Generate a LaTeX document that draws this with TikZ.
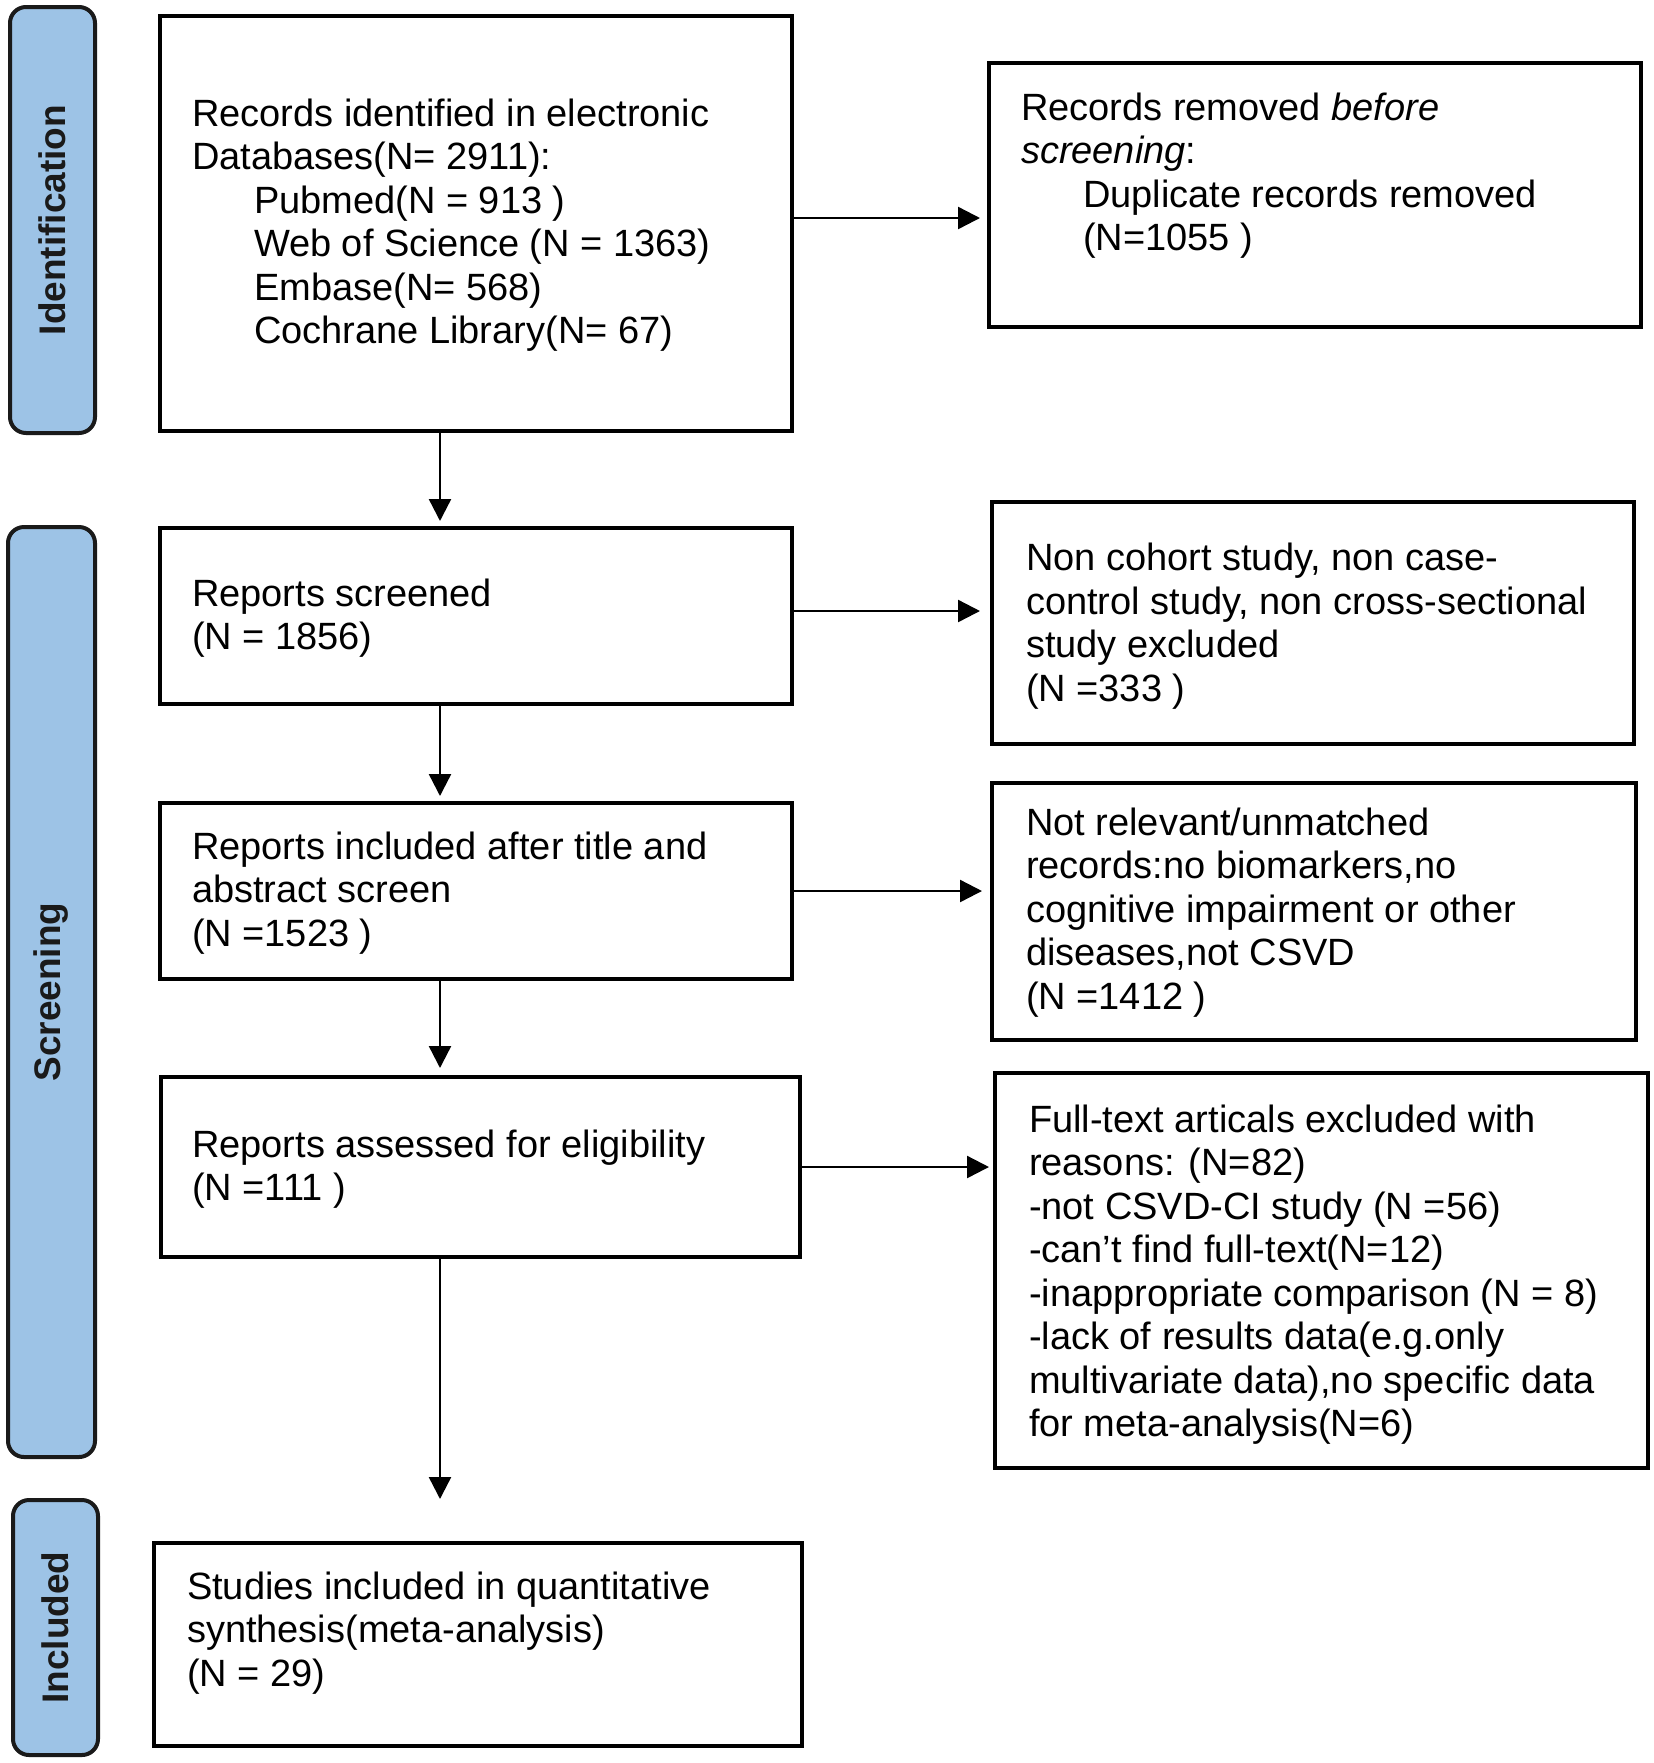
\documentclass[tikz,border=0pt]{standalone}
\usepackage{fontspec}
\setmainfont{Liberation Sans}
\usetikzlibrary{arrows.meta}
\definecolor{phaseblue}{HTML}{9DC3E6}
\definecolor{edgegray}{HTML}{1A1A1A}
\begin{document}
\begin{tikzpicture}[x=0.5pt,y=-0.5pt,
  box/.style={draw=black, line width=2.2pt, rectangle, inner sep=0pt, outer sep=0pt, fill=white},
  phase/.style={draw=edgegray, line width=2pt, fill=phaseblue, rounded corners=8pt, inner sep=0pt, outer sep=0pt, rotate=90, font=\fontsize{18.5}{22}\selectfont\bfseries, text=edgegray},
  txt/.style={anchor=north west, inner sep=0pt, outer sep=0pt, align=left, font=\fontsize{19}{21.75}\selectfont, yshift=-1.25pt},
  arr/.style={-{Triangle[length=11pt,width=11pt]}, line width=1.2pt, draw=black}]
\useasboundingbox (0,0) rectangle (1654,1763);

% phase labels
\node[phase, minimum width=213pt, minimum height=42.5pt] (p1) at (52.5,220) {Identification};
\node[phase, minimum width=465pt, minimum height=43.5pt] (p2) at (51.5,992) {Screening};
\node[phase, minimum width=127.5pt, minimum height=42.5pt] (p3) at (55.5,1627.5) {Included};

% boxes
\node[box, minimum width=316pt, minimum height=207.5pt] (b1) at (476,223.5) {};
\node[box, minimum width=326pt, minimum height=132pt] (b2) at (1315,195) {};
\node[box, minimum width=316pt, minimum height=88pt] (b3) at (476,616) {};
\node[box, minimum width=321pt, minimum height=121pt] (b4) at (1313,623) {};
\node[box, minimum width=316pt, minimum height=88pt] (b5) at (476,891) {};
\node[box, minimum width=322pt, minimum height=128.5pt] (b6) at (1314,911.5) {};
\node[box, minimum width=319.5pt, minimum height=90pt] (b7) at (480.5,1167) {};
\node[box, minimum width=326.5pt, minimum height=197.5pt] (b8) at (1321.5,1270.5) {};
\node[box, minimum width=324pt, minimum height=101.5pt] (b9) at (478,1644.5) {};

% texts
\node[txt] (t1) at (192,93.5) {\strut Records identified in electronic\\
Databases(N= 2911):\\
\hspace*{31pt}Pubmed(N = 913 )\\
\hspace*{31pt}Web of Science (N = 1363)\\
\hspace*{31pt}Embase(N= 568)\\
\hspace*{31pt}Cochrane Library(N= 67)};
\node[txt] (t2) at (1021,87.5) {\strut Records removed \textit{before}\\
\textit{screening}:\\
\hspace*{31pt}Duplicate records removed\\
\hspace*{31pt}(N=1055 )};
\node[txt] (t3) at (192,573.5) {\strut Reports screened\\
(N = 1856)};
\node[txt] (t4) at (1026,538) {\strut Non cohort study, non case-\\
control study, non cross-sectional\\
study excluded\\
(N =333 )};
\node[txt] (t5) at (192,826.5) {\strut Reports included after title and\\
abstract screen\\
(N =1523 )};
\node[txt] (t6) at (1026,802.5) {\strut Not relevant/unmatched\\
records:no biomarkers,no\\
cognitive impairment or other\\
diseases,not CSVD\\
(N =1412 )};
\node[txt] (t7) at (192,1124.5) {\strut Reports assessed for eligibility\\
(N =111 )};
\node[txt] (t8) at (1029,1099.5) {\strut Full-text articals excluded with\\
reasons: (N=82)\\
-not CSVD-CI study (N =56)\\
-can’t find full-text(N=12)\\
-inappropriate comparison (N = 8)\\
-lack of results data(e.g.only\\
multivariate data),no specific data\\
for meta-analysis(N=6)};
\node[txt] (t9) at (187,1566.5) {\strut Studies included in quantitative\\
synthesis(meta-analysis)\\
(N = 29)};

% connectors
\coordinate (spine) at (440,0);
\draw[arr, shorten >=4.5pt] ([yshift=2.75pt]b1.east) -- ([yshift=2.75pt]b1.east -| b2.west);
\draw[arr, shorten >=6pt] ([yshift=2.5pt]b3.east) -- ([yshift=2.5pt]b3.east -| b4.west);
\draw[arr, shorten >=5pt] (b5.east) -- (b5.east -| b6.west);
\draw[arr, shorten >=3pt] (b7.east) -- (b7.east -| b8.west);
\draw[arr, shorten >=3.5pt] (b1.south -| spine) -- (b3.north -| spine);
\draw[arr, shorten >=3.5pt] (b3.south -| spine) -- (b5.north -| spine);
\draw[arr, shorten >=4.5pt] (b5.south -| spine) -- (b7.north -| spine);
\draw[arr, shorten >=22pt] (b7.south -| spine) -- (b9.north -| spine);
\end{tikzpicture}
\end{document}
